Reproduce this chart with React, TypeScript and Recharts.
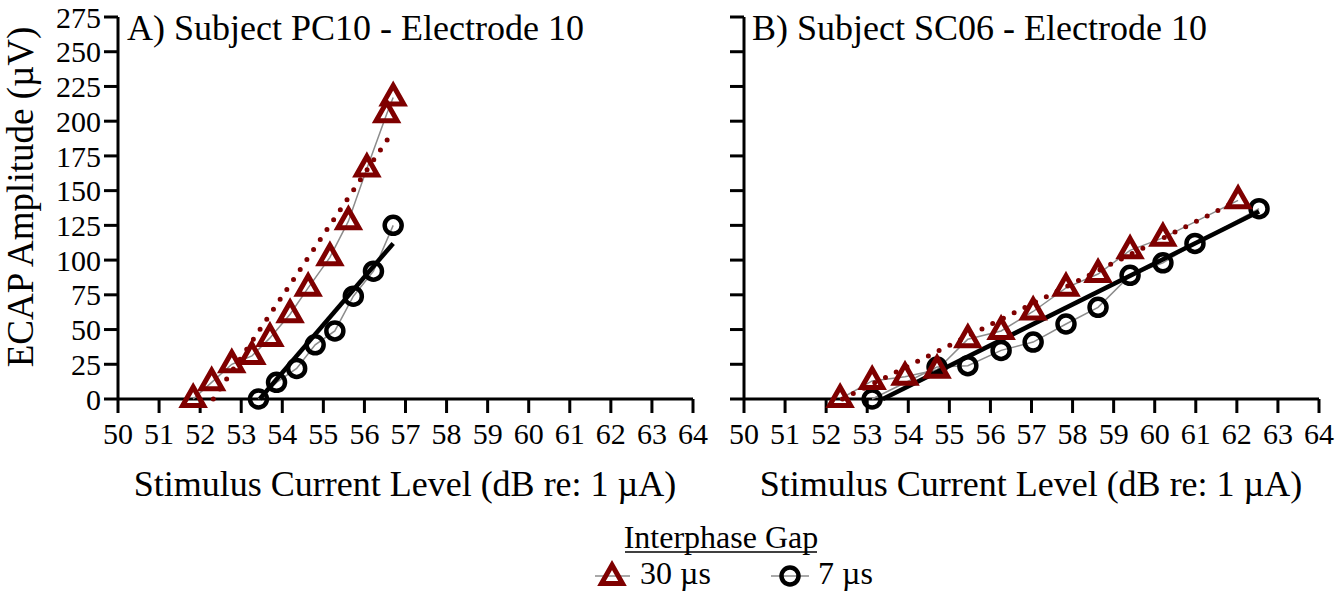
import React from "react";
import { ScatterChart, Scatter, XAxis, YAxis } from "recharts";

// stimulus level (dB re 1 µA) and ECAP amplitude (µV) per subject / IPG
const pc10Level30 = [51.83, 52.28, 52.77, 53.26, 53.7, 54.19, 54.63, 55.16, 55.61, 56.06, 56.54, 56.7];
const pc10Amp30 = [0, 12, 25, 31, 44, 61, 80, 102, 128, 166, 205, 217];
const pc10Level7 = [53.42, 53.86, 54.35, 54.8, 55.28, 55.73, 56.22, 56.7];
const pc10Amp7 = [0, 12, 22, 39, 49, 74, 92, 125];

const sc06Level30 = [52.34, 53.12, 53.92, 54.7, 55.45, 56.26, 57.04, 57.84, 58.62, 59.4, 60.2, 62.03];
const sc06Amp30 = [0, 13, 16, 21, 43, 49, 63, 80, 90, 107, 116, 143];
const sc06Level7 = [53.12, 54.7, 55.45, 56.26, 57.04, 57.84, 58.62, 59.4, 60.2, 60.98, 62.54];
const sc06Amp7 = [0, 23, 24, 35, 41, 54, 66, 89, 98, 112, 137];

// linear growth fits (start/end)
const pc10FitLevel30 = [52.32, 56.7];
const pc10FitAmp30 = [0, 193];
const pc10FitLevel7 = [53.45, 56.7];
const pc10FitAmp7 = [0, 112];
const sc06FitLevel30 = [52.4, 62.03];
const sc06FitAmp30 = [0, 143];
const sc06FitLevel7 = [53.38, 62.54];
const sc06FitAmp7 = [0, 135];

const xTicks = [50, 51, 52, 53, 54, 55, 56, 57, 58, 59, 60, 61, 62, 63, 64];
const yTicks = [0, 25, 50, 75, 100, 125, 150, 175, 200, 225, 250, 275];

const RED = "#7f0000";
const GREY = "#8c8c8c";
const FONT = "'Liberation Serif', 'Times New Roman', serif";

const toPoints = (xs: number[], ys: number[]) => xs.map((x, i) => ({ x, y: ys[i] }));

const Triangle = (props: any) => {
  const { cx, cy } = props;
  if (cx == null || cy == null) return <g />;
  return (
    <path
      d={`M${cx},${cy - 12} L${cx + 10.5},${cy + 6.5} L${cx - 10.5},${cy + 6.5} Z`}
      fill="none"
      stroke={RED}
      strokeWidth={5}
    />
  );
};

const Circle = (props: any) => {
  const { cx, cy } = props;
  if (cx == null || cy == null) return <g />;
  return <circle cx={cx} cy={cy} r={8.5} fill="none" stroke="#000" strokeWidth={4.5} />;
};

const NoMark = () => <g />;

interface PanelProps {
  width: number;
  axisWidth: number;
  showYLabels: boolean;
  level30: number[];
  amp30: number[];
  level7: number[];
  amp7: number[];
  fitLevel30: number[];
  fitAmp30: number[];
  fitLevel7: number[];
  fitAmp7: number[];
}

function Panel(p: PanelProps) {
  const axisStyle = { stroke: "#000", strokeWidth: 3 };
  const tickFont = { fontSize: 30, fill: "#000", fontFamily: FONT };
  return (
    <ScatterChart
      width={p.width}
      height={510}
      margin={{ top: 17, right: 17, left: 0, bottom: 51 }}
      style={{ fontFamily: FONT }}
    >
      <XAxis
        type="number"
        dataKey="x"
        domain={[50, 64]}
        ticks={xTicks}
        interval={0}
        height={60}
        tickSize={14}
        tickMargin={10}
        axisLine={axisStyle}
        tickLine={axisStyle}
        tick={tickFont}
      />
      <YAxis
        type="number"
        dataKey="y"
        domain={[0, 275]}
        ticks={yTicks}
        interval={0}
        width={p.axisWidth}
        tickSize={14}
        tickMargin={3}
        axisLine={axisStyle}
        tickLine={axisStyle}
        tick={p.showYLabels ? tickFont : () => <g />}
      />
      <Scatter
        data={toPoints(p.level7, p.amp7)}
        line={{ stroke: GREY, strokeWidth: 1.5 }}
        lineType="joint"
        shape={NoMark}
        isAnimationActive={false}
      />
      <Scatter
        data={toPoints(p.level30, p.amp30)}
        line={{ stroke: GREY, strokeWidth: 1.5 }}
        lineType="joint"
        shape={NoMark}
        isAnimationActive={false}
      />
      <Scatter
        data={toPoints(p.fitLevel7, p.fitAmp7)}
        line={{ stroke: "#000", strokeWidth: 4.5 }}
        lineType="joint"
        shape={NoMark}
        isAnimationActive={false}
      />
      <Scatter data={toPoints(p.level7, p.amp7)} shape={Circle} isAnimationActive={false} />
      <Scatter data={toPoints(p.level30, p.amp30)} shape={Triangle} isAnimationActive={false} />
      <Scatter
        data={toPoints(p.fitLevel30, p.fitAmp30)}
        line={{ stroke: RED, strokeWidth: 5, strokeDasharray: "0 12", strokeLinecap: "round" }}
        lineType="joint"
        shape={NoMark}
        isAnimationActive={false}
      />
    </ScatterChart>
  );
}

export default function App() {
  return (
    <div
      style={{
        position: "absolute",
        left: 0,
        top: 0,
        width: 1336,
        height: 593,
        background: "#fff",
        fontFamily: FONT,
      }}
    >
      <div style={{ position: "absolute", left: 0, top: 0 }}>
        <Panel
          width={710}
          axisWidth={118}
          showYLabels
          level30={pc10Level30}
          amp30={pc10Amp30}
          level7={pc10Level7}
          amp7={pc10Amp7}
          fitLevel30={pc10FitLevel30}
          fitAmp30={pc10FitAmp30}
          fitLevel7={pc10FitLevel7}
          fitAmp7={pc10FitAmp7}
        />
      </div>
      <div style={{ position: "absolute", left: 710, top: 0 }}>
        <Panel
          width={626}
          axisWidth={34}
          showYLabels={false}
          level30={sc06Level30}
          amp30={sc06Amp30}
          level7={sc06Level7}
          amp7={sc06Amp7}
          fitLevel30={sc06FitLevel30}
          fitAmp30={sc06FitAmp30}
          fitLevel7={sc06FitLevel7}
          fitAmp7={sc06FitAmp7}
        />
      </div>
      <svg
        width={1336}
        height={593}
        style={{ position: "absolute", left: 0, top: 0, pointerEvents: "none", fontFamily: FONT }}
      >
        <text x={127} y={40} fontSize={36}>A) Subject PC10 - Electrode 10</text>
        <text x={752} y={40} fontSize={36}>B) Subject SC06 - Electrode 10</text>
        <text x={33} y={197} fontSize={37} textAnchor="middle" transform="rotate(-90 33 197)">
          ECAP Amplitude (µV)
        </text>
        <text x={405} y={496} fontSize={36} textAnchor="middle">Stimulus Current Level (dB re: 1 µA)</text>
        <text x={1031} y={496} fontSize={36} textAnchor="middle">Stimulus Current Level (dB re: 1 µA)</text>

        <text x={721} y={548} fontSize={32} textAnchor="middle">Interphase Gap</text>
        <line x1={625} x2={817} y1={552} y2={552} stroke="#000" strokeWidth={1.5} />

        <line x1={595} x2={630} y1={576} y2={576} stroke={GREY} strokeWidth={1.5} />
        <Triangle cx={612} cy={577} />
        <text x={640} y={584} fontSize={32}>30 µs</text>
        <line x1={771} x2={809} y1={576} y2={576} stroke={GREY} strokeWidth={1.5} />
        <Circle cx={790} cy={576} />
        <text x={818} y={584} fontSize={32}>7 µs</text>
      </svg>
    </div>
  );
}
